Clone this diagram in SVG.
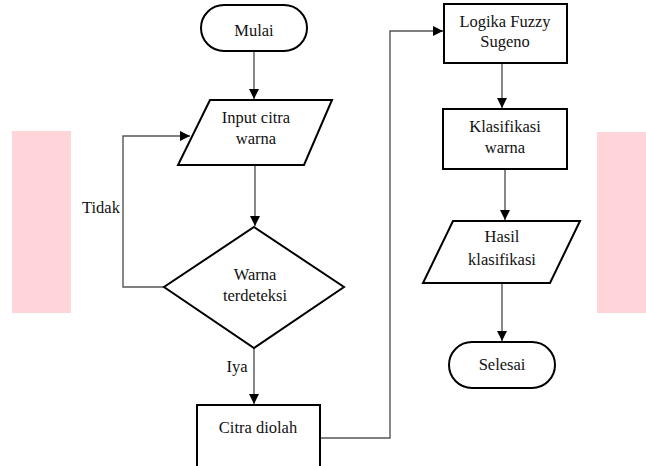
<svg xmlns="http://www.w3.org/2000/svg" width="646" height="466" viewBox="0 0 646 466">
<style>
.n{fill:#fff;stroke:#000;stroke-width:2}
.t{font-family:"Liberation Serif","Times New Roman",serif;font-size:16.5px;fill:#111;text-anchor:middle}
.c{fill:none;stroke:#555;stroke-width:1.4}
</style>
<defs>
<marker id="a" viewBox="0 0 10 10" refX="10" refY="5" markerWidth="10" markerHeight="10" markerUnits="userSpaceOnUse" orient="auto">
<path d="M0,0L10,5L0,10z" fill="#000"/>
</marker>
</defs>
<rect width="646" height="466" fill="#fff"/>
<rect x="12" y="131" width="59" height="182" fill="#ffd5d9"/>
<rect x="597" y="132" width="49" height="181" fill="#ffd5d9"/>
<g id="connectors">
<line class="c" x1="254" y1="51" x2="254" y2="99" marker-end="url(#a)"/>
<line class="c" x1="255" y1="165" x2="255" y2="226" marker-end="url(#a)"/>
<polyline class="c" points="164,287 123,287 123,136 190,136" marker-end="url(#a)"/>
<line class="c" x1="254" y1="348" x2="254" y2="404" marker-end="url(#a)"/>
<polyline class="c" points="320,438 390,438 390,31 443,31" marker-end="url(#a)"/>
<line class="c" x1="502" y1="63" x2="502" y2="108" marker-end="url(#a)"/>
<line class="c" x1="505" y1="169" x2="505" y2="220" marker-end="url(#a)"/>
<line class="c" x1="502" y1="283" x2="502" y2="341" marker-end="url(#a)"/>
<text class="t" x="101" y="213">Tidak</text>
<text class="t" x="237" y="372">Iya</text>
</g>
<g id="mulai">
<rect class="n" x="201" y="5" width="106" height="46" rx="23"/>
<text class="t" x="254" y="36">Mulai</text>
</g>
<g id="input">
<polygon class="n" points="210,100 332,100 304,165 178,165"/>
<text class="t" x="256" y="123">Input citra</text>
<text class="t" x="256" y="144">warna</text>
</g>
<g id="decision">
<polygon class="n" points="254,227 344,287 254,348 164,287"/>
<text class="t" x="255" y="280">Warna</text>
<text class="t" x="255" y="301">terdeteksi</text>
</g>
<g id="citra">
<rect class="n" x="197" y="405" width="123" height="62"/>
<text class="t" x="258" y="433">Citra diolah</text>
</g>
<g id="fuzzy">
<rect class="n" x="444" y="4" width="123" height="59"/>
<text class="t" x="505" y="27">Logika Fuzzy</text>
<text class="t" x="505" y="47">Sugeno</text>
</g>
<g id="klasifikasi">
<rect class="n" x="443" y="109" width="124" height="60"/>
<text class="t" x="505" y="132">Klasifikasi</text>
<text class="t" x="505" y="153">warna</text>
</g>
<g id="hasil">
<polygon class="n" points="453,221 580,221 550,283 423,283"/>
<text class="t" x="502" y="242">Hasil</text>
<text class="t" x="502" y="265">klasifikasi</text>
</g>
<g id="selesai">
<rect class="n" x="449" y="342" width="106" height="46" rx="23"/>
<text class="t" x="502" y="370">Selesai</text>
</g>
</svg>
